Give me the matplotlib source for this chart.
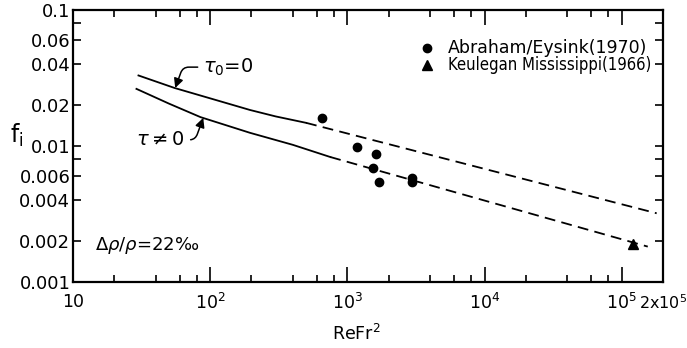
import numpy as np
import matplotlib
matplotlib.use("Agg")
import matplotlib.pyplot as plt
from matplotlib.ticker import FixedLocator, NullFormatter

# curve tau_0 = 0 (solid part, then dashed extrapolation)
upper_solid_x = [30, 55, 100, 195, 300, 500]
upper_solid_y = [0.0330, 0.0267, 0.0224, 0.0184, 0.0165, 0.0148]
upper_dash_x = [500, 180000]
upper_dash_y = [0.0148, 0.0032]

# curve tau != 0
lower_solid_x = [29, 50, 85, 195, 400, 750]
lower_solid_y = [0.0263, 0.0205, 0.0163, 0.0125, 0.0102, 0.0083]
lower_dash_x = [750, 155000]
lower_dash_y = [0.0083, 0.00182]

# measurements
abraham_x = [658, 1183, 1630, 1550, 1700, 2980, 2980]
abraham_y = [0.0161, 0.00984, 0.00873, 0.0069, 0.00543, 0.00582, 0.00543]
keulegan_x = [120000]
keulegan_y = [0.0019]

xtick_vals = [10, 100, 1e3, 1e4, 1e5, 2e5]
xtick_labels = ["10", "$10^2$", "$10^3$", "$10^4$", "$10^5$", "2x$10^5$"]
ytick_vals = [0.001, 0.002, 0.004, 0.006, 0.01, 0.02, 0.04, 0.06, 0.1]
ytick_labels = ["0.001", "0.002", "0.004", "0.006", "0.01", "0.02", "0.04", "0.06", "0.1"]

plt.rcParams['font.family'] = ['DejaVu Sans']
plt.rcParams['mathtext.fontset'] = 'dejavusans'

fig = plt.figure(figsize=(6.87, 3.48), dpi=100)
ax = fig.add_axes([0.1063, 0.1897, 0.965 - 0.1063, 0.9713 - 0.1897])
ax.set_xscale('log')
ax.set_yscale('log')
ax.set_xlim(10, 2e5)
ax.set_ylim(0.001, 0.1)

lw = 1.3
ax.plot(upper_solid_x, upper_solid_y, color='black', lw=lw)
ax.plot(upper_dash_x, upper_dash_y, color='black', lw=lw, dashes=(6, 3.5))
ax.plot(lower_solid_x, lower_solid_y, color='black', lw=lw)
ax.plot(lower_dash_x, lower_dash_y, color='black', lw=lw, dashes=(6, 3.5))

ax.plot(abraham_x, abraham_y, 'o', color='black', ms=6, ls='none')
ax.plot(keulegan_x, keulegan_y, '^', color='black', ms=7, ls='none')

# legend drawn by hand like the original
ax.plot([3.8e3], [0.0525], 'o', color='black', ms=6)
ax.plot([3.8e3], [0.0393], '^', color='black', ms=7)
ax.text(5.4e3, 0.0525, "Abraham/Eysink(1970)", fontsize=12.5, va='center', ha='left')
ax.text(5.4e3, 0.0393, "Keulegan Mississippi(1966)", fontsize=12, va='center', ha='left',
        fontstretch='condensed')

ax.annotate(r"$\tau_0$=0", xy=(55.6, 0.0267), xytext=(89, 0.038),
            fontsize=14, va='center', ha='left',
            arrowprops=dict(arrowstyle='-|>', color='black', lw=1.1,
                            connectionstyle='angle,angleA=180,angleB=70,rad=6',
                            shrinkA=2, shrinkB=0))
ax.annotate(r"$\tau \neq 0$", xy=(89, 0.0161), xytext=(29, 0.0111),
            fontsize=14, va='center', ha='left',
            arrowprops=dict(arrowstyle='-|>', color='black', lw=1.1,
                            connectionstyle='angle,angleA=0,angleB=-110,rad=6',
                            shrinkA=2, shrinkB=0))

ax.text(14.5, 0.00185, r"$\Delta\rho/\rho$=22‰", fontsize=13, va='center', ha='left')

ax.xaxis.set_major_locator(FixedLocator(xtick_vals))
ax.set_xticklabels(xtick_labels, fontsize=12.5)
ax.get_xticklabels()[-1].set_fontsize(11.5)
xminor = [m * 10 ** d for d in range(1, 6) for m in (2, 4, 6, 8) if m * 10 ** d < 2e5]
ax.xaxis.set_minor_locator(FixedLocator(xminor))
ax.xaxis.set_minor_formatter(NullFormatter())

ax.yaxis.set_major_locator(FixedLocator(ytick_vals))
ax.set_yticklabels(ytick_labels, fontsize=13)
ax.yaxis.set_minor_locator(FixedLocator([0.008, 0.08]))
ax.yaxis.set_minor_formatter(NullFormatter())

ax.tick_params(which='both', direction='in', top=True, right=True, width=1.2)
ax.tick_params(axis='x', which='major', length=11, pad=8)
ax.tick_params(axis='x', which='minor', length=5)
ax.tick_params(axis='y', which='major', length=6, pad=2)
ax.tick_params(axis='y', which='minor', length=6)
for s in ax.spines.values():
    s.set_linewidth(1.6)

ax.set_ylabel(r"f$_{\rm i}$", fontsize=17, rotation=0)
ax.yaxis.set_label_coords(-0.095, 0.49)
ax.set_xlabel("ReFr$^2$", fontsize=12.5)
ax.xaxis.set_label_coords(0.48, -0.155)

fig.savefig("out.png", dpi=100)
